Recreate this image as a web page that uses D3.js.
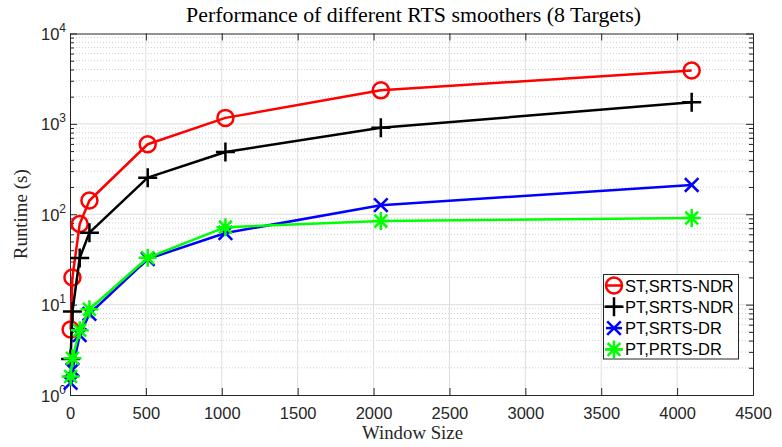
<!DOCTYPE html>
<html>
<head>
<meta charset="utf-8">
<script src="https://cdn.jsdelivr.net/npm/d3@7"></script>
<style>
  html, body { margin: 0; padding: 0; background: #fff; }
  svg { display: block; }
</style>
</head>
<body>
<svg id="chart" width="782" height="447"></svg>
<script>
// Window sizes and measured runtimes (seconds) for each smoother
const windowSizes = [4, 16, 64, 128, 512, 1024, 2048, 4096];
const stSrtsNdr  = [5.3, 20, 78, 142, 595, 1165, 2350, 3900];
const ptSrtsNdr  = [2.5, 8.4, 32.8, 62.6, 254, 489, 907, 1733];
const ptSrtsDr   = [1.36, 1.9, 4.6, 7.9, 32, 62, 126, 211];
const ptPrtsDr   = [1.6, 2.55, 5.2, 8.9, 33, 72, 84, 91];

const seriesNames  = ["ST,SRTS-NDR", "PT,SRTS-NDR", "PT,SRTS-DR", "PT,PRTS-DR"];
const seriesColors = ["#ff0000", "#000000", "#0000ff", "#00ff00"];
const seriesMarks  = ["circle", "plus", "cross", "star"];
const seriesValues = [stSrtsNdr, ptSrtsNdr, ptSrtsDr, ptPrtsDr];

const xTicks = [0, 500, 1000, 1500, 2000, 2500, 3000, 3500, 4000, 4500];
const yDecades = [0, 1, 2, 3, 4];

const titleText = "Performance of different RTS smoothers (8 Targets)";
const xLabel = "Window Size";
const yLabel = "Runtime (s)";

const svg = d3.select("#chart");
const plotLeft = 70, plotRight = 753, plotTop = 33.5, plotBottom = 395;

const x = d3.scaleLinear().domain([0, 4500]).range([plotLeft, plotRight]);
const y = d3.scaleLog().domain([1, 1e4]).range([plotBottom, plotTop]);

const axisColor = "#262626";
const gridColor = "#dedede";
const minorColor = "#d0d0d0";

// minor log values (2..9 per decade)
const minorVals = [];
for (let d = 0; d < 4; d++) for (let m = 2; m <= 9; m++) minorVals.push(m * Math.pow(10, d));

const grid = svg.append("g");
grid.selectAll("line.minor").data(minorVals).join("line")
  .attr("x1", plotLeft).attr("x2", plotRight)
  .attr("y1", d => y(d)).attr("y2", d => y(d))
  .attr("stroke", minorColor).attr("stroke-width", 1)
  .attr("stroke-dasharray", "1,2");
grid.selectAll("line.xg").data(xTicks.slice(1, -1)).join("line")
  .attr("x1", d => x(d)).attr("x2", d => x(d))
  .attr("y1", plotTop).attr("y2", plotBottom)
  .attr("stroke", gridColor).attr("stroke-width", 1);
grid.selectAll("line.yg").data(yDecades.slice(1, -1)).join("line")
  .attr("x1", plotLeft).attr("x2", plotRight)
  .attr("y1", d => y(Math.pow(10, d))).attr("y2", d => y(Math.pow(10, d)))
  .attr("stroke", gridColor).attr("stroke-width", 1);

// Axes: ticks point inward on all four sides (boxed axes)
const tickFont = "'Liberation Sans', Arial, Helvetica, sans-serif";
const axB = d3.axisBottom(x).tickValues(xTicks).tickSize(-7).tickSizeOuter(0).tickPadding(12).tickFormat(d3.format("d"));
const axT = d3.axisTop(x).tickValues(xTicks).tickSize(-7).tickSizeOuter(0).tickFormat("");
const axL = d3.axisLeft(y).tickValues(yDecades.map(d => Math.pow(10, d))).tickSize(-7).tickSizeOuter(0).tickFormat("");
const axR = d3.axisRight(y).tickValues(yDecades.map(d => Math.pow(10, d))).tickSize(-7).tickSizeOuter(0).tickFormat("");
const axLm = d3.axisLeft(y).tickValues(minorVals).tickSize(-4).tickSizeOuter(0).tickFormat("");
const axRm = d3.axisRight(y).tickValues(minorVals).tickSize(-4).tickSizeOuter(0).tickFormat("");

function styleAxis(g) {
  g.selectAll("path.domain").attr("stroke", axisColor).attr("stroke-width", 1);
  g.selectAll(".tick line").attr("stroke", axisColor).attr("stroke-width", 1);
  g.selectAll(".tick text").attr("fill", axisColor)
    .style("font-family", tickFont).style("font-size", "16.5px");
}
svg.append("g").attr("transform", `translate(0,${plotBottom})`).call(axB).call(styleAxis);
svg.append("g").attr("transform", `translate(0,${plotTop})`).call(axT).call(styleAxis);
svg.append("g").attr("transform", `translate(${plotLeft},0)`).call(axLm).call(styleAxis);
svg.append("g").attr("transform", `translate(${plotRight},0)`).call(axRm).call(styleAxis);
svg.append("g").attr("transform", `translate(${plotLeft},0)`).call(axL).call(styleAxis);
svg.append("g").attr("transform", `translate(${plotRight},0)`).call(axR).call(styleAxis);

// Y tick labels as powers of ten
const yl = svg.append("g");
yDecades.forEach(d => {
  const t = yl.append("text")
    .attr("x", plotLeft - 4).attr("y", y(Math.pow(10, d)) + 6.5)
    .attr("text-anchor", "end").attr("fill", axisColor)
    .style("font-family", tickFont).style("font-size", "16.5px");
  t.append("tspan").text("10");
  t.append("tspan").attr("dy", -8).style("font-size", "12px").text(String(d));
});

// Marker shapes
function markerPath(kind) {
  switch (kind) {
    case "plus": { const s = 9.5; return `M${-s},0H${s}M0,${-s}V${s}`; }
    case "cross": { const s = 6.8; return `M${-s},${-s}L${s},${s}M${-s},${s}L${s},${-s}`; }
    case "star": { const s = 9, c = 6.4; return `M${-s},0H${s}M0,${-s}V${s}M${-c},${-c}L${c},${c}M${-c},${c}L${c},${-c}`; }
  }
}
function drawMarker(g, kind, color) {
  if (kind === "circle") {
    g.append("circle").attr("r", 8).attr("fill", "none").attr("stroke", color).attr("stroke-width", 2.5);
  } else {
    g.append("path").attr("d", markerPath(kind)).attr("fill", "none")
      .attr("stroke", color).attr("stroke-width", 2.5);
  }
}

const plot = svg.append("g");
const line = d3.line().x(d => x(d[0])).y(d => y(d[1]));
seriesValues.forEach((vals, i) => {
  const pts = windowSizes.map((w, j) => [w, vals[j]]);
  const g = plot.append("g");
  g.append("path").datum(pts).attr("d", line)
    .attr("fill", "none").attr("stroke", seriesColors[i]).attr("stroke-width", 2.5)
    .attr("stroke-linejoin", "round");
  pts.forEach(p => {
    const m = g.append("g").attr("transform", `translate(${x(p[0])},${y(p[1])})`);
    drawMarker(m, seriesMarks[i], seriesColors[i]);
  });
});

// Legend
const lg = svg.append("g");
lg.append("rect").attr("x", 603.5).attr("y", 274.5).attr("width", 135).attr("height", 84.5)
  .attr("fill", "#fff").attr("stroke", axisColor).attr("stroke-width", 1);
seriesNames.forEach((name, i) => {
  const cy = 285.5 + i * 21.3;
  lg.append("line").attr("x1", 606).attr("x2", 622).attr("y1", cy).attr("y2", cy)
    .attr("stroke", seriesColors[i]).attr("stroke-width", 2.5);
  const m = lg.append("g").attr("transform", `translate(614,${cy})`);
  drawMarker(m, seriesMarks[i], seriesColors[i]);
  lg.append("text").attr("x", 625).attr("y", cy + 6)
    .attr("fill", "#000").style("font-family", tickFont).style("font-size", "16.5px")
    .text(name);
});

// Title and axis labels in a serif face, sized to their measured widths
const serif = "'Liberation Serif', 'Times New Roman', serif";
function fitText(sel, width) {
  const w = sel.node().getComputedTextLength();
  const fs = parseFloat(sel.style("font-size"));
  sel.style("font-size", (fs * width / w).toFixed(2) + "px");
}
const title = svg.append("text").attr("x", (plotLeft + plotRight) / 2 + 2).attr("y", 22)
  .attr("text-anchor", "middle").attr("fill", "#000")
  .style("font-family", serif).style("font-size", "18px").text(titleText);
fitText(title, 455);
const xl = svg.append("text").attr("x", 412.5).attr("y", 439)
  .attr("text-anchor", "middle").attr("fill", axisColor)
  .style("font-family", serif).style("font-size", "17px").text(xLabel);
fitText(xl, 101);
const ylab = svg.append("text")
  .attr("transform", `translate(27,${(plotTop + plotBottom) / 2}) rotate(-90)`)
  .attr("text-anchor", "middle").attr("fill", axisColor)
  .style("font-family", serif).style("font-size", "17px").text(yLabel);
fitText(ylab, 90);
</script>
</body>
</html>
